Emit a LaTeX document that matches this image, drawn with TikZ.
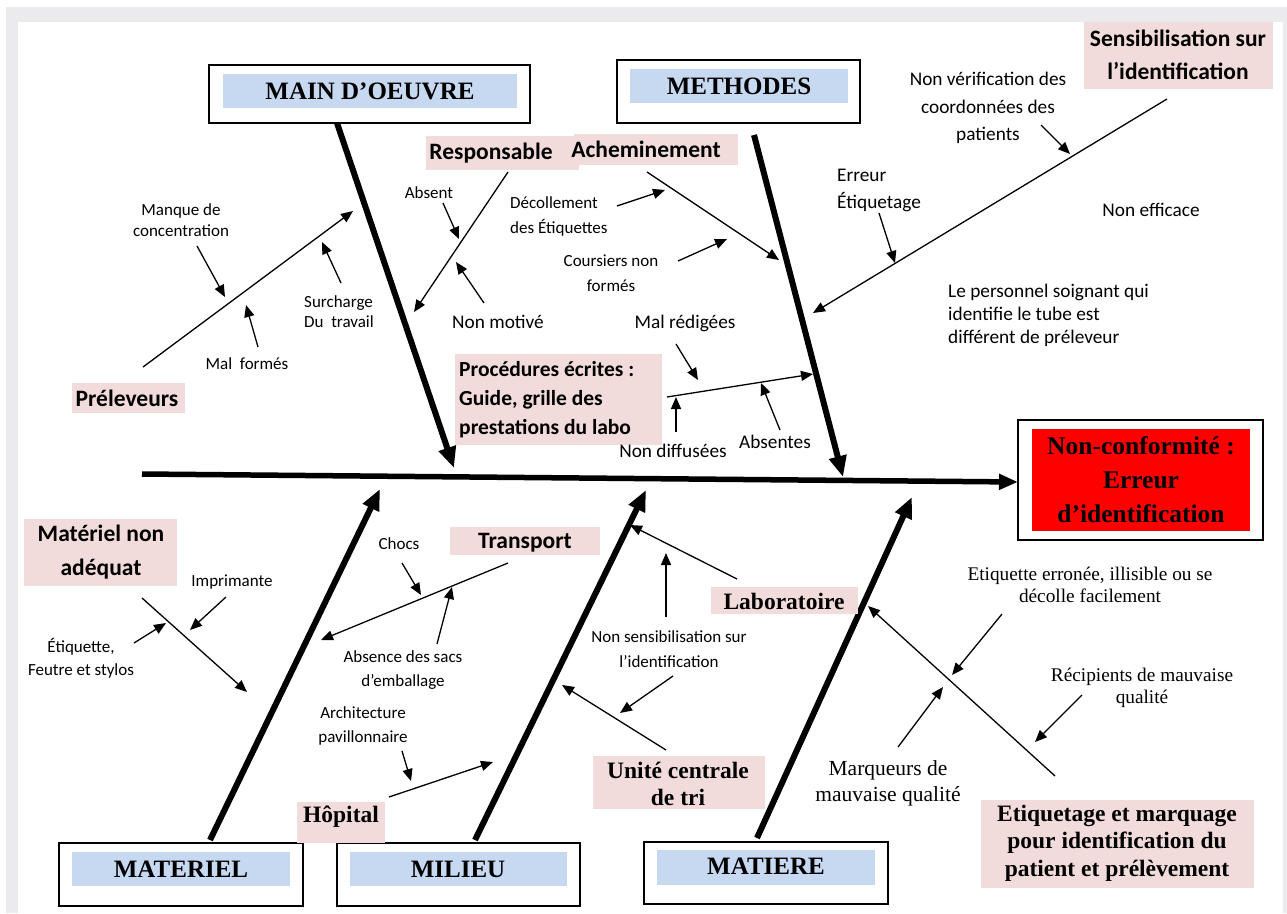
\documentclass[tikz,border=0pt]{standalone}
\usepackage{fontspec}
\setmainfont{Liberation Serif}
\newfontfamily\carl{Carlito}
\usetikzlibrary{arrows.meta}
\definecolor{framegray}{HTML}{EBEBED}
\definecolor{catblue}{HTML}{C6D9F1}
\definecolor{pinkfill}{HTML}{F2DCDB}
\definecolor{effred}{HTML}{FF0000}
\newcommand\cf[2]{\carl\fontsize{#1}{#2}\selectfont}
\newcommand\tf[2]{\fontsize{#1}{#2}\selectfont}
\tikzset{
  txt/.style={inner sep=0pt, align=center, text=black},
  catbox/.style={draw=black, line width=1.2pt, fill=white, inner sep=0pt},
  cattext/.style={inner sep=0pt, font={\bfseries\tf{25}{30}}},
  bone/.style={line width=6pt, -{Triangle[length=21pt,width=17pt]}},
  spine/.style={line width=5.5pt, -{Triangle[length=19pt,width=15pt]}},
  sub/.style={line width=1.3pt, -{Triangle[length=12pt,width=10pt]}},
  subplain/.style={line width=1.3pt},
  small/.style={txt, font={\cf{17}{24}}},
  medium/.style={txt, font={\cf{19.3}{24}}},
  boldlab/.style={txt, font={\carl\bfseries\fontsize{23.5}{33}\selectfont}},
  timeslab/.style={txt, font={\bfseries\tf{23.5}{27.5}}},
  timesreg/.style={txt, font={\tf{19.3}{22}}},
}
\begin{document}
\begin{tikzpicture}[x=1pt,y=-1pt]
\useasboundingbox (0,0) rectangle (1287,913);
% frame
\fill[framegray] (6,7) rectangle (1287,913);
\fill[white] (18,22) rectangle (1283,913);

% ---------- category boxes ----------
\node[catbox, minimum width=321pt, minimum height=58pt] (mainbox) at (369.5,94) {};
\fill[catblue] (223,74) rectangle (517,108);
\node[cattext] (maintxt) at (370,91) {MAIN D’OEUVRE};

\node[catbox, minimum width=243pt, minimum height=63pt] (methbox) at (738.5,91.5) {};
\fill[catblue] (630,69) rectangle (848,103);
\node[cattext] (methtxt) at (739,86) {METHODES};

\node[catbox, minimum width=244pt, minimum height=63pt] (matbox) at (181,874.5) {};
\fill[catblue] (72,852) rectangle (290,886);
\node[cattext] (mattxt) at (181,869) {MATERIEL};

\node[catbox, minimum width=243pt, minimum height=63pt] (milbox) at (458.5,874.5) {};
\fill[catblue] (350,852) rectangle (567,886);
\node[cattext] (miltxt) at (458,869) {MILIEU};

\node[catbox, minimum width=244pt, minimum height=62pt] (matibox) at (766,873) {};
\fill[catblue] (657,850) rectangle (875,885);
\node[cattext] (matitxt) at (766,866) {MATIERE};

% ---------- effect ----------
\node[catbox, minimum width=245pt, minimum height=120pt] (effbox) at (1140.5,480) {};
\fill[effred] (1032,429) rectangle (1250,531);
\node[txt, font={\bfseries\tf{25.5}{34}}] (efftxt) at (1141,480) {Non-conformité :\\Erreur\\d’identification};

% ---------- spine and main bones ----------
\coordinate (spA) at (142,474);
\coordinate (spB) at (1018,482);
\draw[spine] (spA) -- (spB);

\coordinate (mainA) at (337,123);
\coordinate (mainB) at (454,468);
\draw[bone] (mainA) -- (mainB);
\coordinate (methA) at (754,135);
\coordinate (methB) at (843,477);
\draw[bone] (methA) -- (methB);
\coordinate (matA) at (210,840);
\coordinate (matB) at (380,489);
\draw[bone] (matA) -- (matB);
\coordinate (milA) at (475,840);
\coordinate (milB) at (646,490);
\draw[bone] (milA) -- (milB);
\coordinate (matiA) at (757,838);
\coordinate (matiB) at (912,497);
\draw[bone] (matiA) -- (matiB);

% ---------- pink labels ----------
\fill[pinkfill] (1084,22) rectangle (1273,89);
\node[boldlab] (sensi) at (1178,55) {Sensibilisation sur\\l’identification};
\fill[pinkfill] (426,136) rectangle (579,170);
\node[boldlab] (resp) at (491,153) {Responsable};
\fill[pinkfill] (574,134) rectangle (738,165);
\node[boldlab] (achem) at (646,149) {Acheminement};
\fill[pinkfill] (72,383) rectangle (185,413);
\node[boldlab] (prel) at (127,398) {Préleveurs};
\fill[pinkfill] (455,354) rectangle (662,445);
\node[txt, align=left, anchor=west, font={\carl\bfseries\fontsize{21.5}{29}\selectfont}] (proc) at (459,400) {Procédures écrites :\\Guide, grille des\\prestations du labo};
\fill[pinkfill] (24,519) rectangle (177,586);
\node[boldlab, font={\carl\bfseries\fontsize{23.5}{34}\selectfont}] (matna) at (101,552) {Matériel non\\adéquat};
\fill[pinkfill] (450,527) rectangle (600,555);
\node[boldlab] (transp) at (525,543) {Transport};
\fill[pinkfill] (297,802) rectangle (385,843);
\node[timeslab] (hop) at (341,817) {Hôpital};
\fill[pinkfill] (711,587) rectangle (858,614);
\node[timeslab] (labo) at (784,601) {Laboratoire};
\fill[pinkfill] (593,756) rectangle (765,809);
\node[timeslab] (unite) at (678,784) {Unité centrale\\de tri};
\fill[pinkfill] (981,800) rectangle (1254,888);
\node[timeslab] (etiq) at (1117,843) {Etiquetage et marquage\\pour identification du\\patient et prélèvement};

% ---------- small texts (top) ----------
\node[small, font={\cf{17}{21}}] (manque) at (181,220) {Manque de\\concentration};
\node[small] (malf) at (247,364) {Mal\ \ formés};
\node[small, align=left, anchor=west, font={\cf{17}{20}}] (surch) at (304,312) {Surcharge\\Du\ \ travail};
\node[small] (absent) at (429,193) {Absent};
\node[medium] (nonmot) at (498,322) {Non motivé};
\node[small, align=left, anchor=west, font={\cf{17}{25}}] (decol) at (510,216) {Décollement\\des Étiquettes};
\node[small, font={\cf{17}{25}}] (cours) at (611,273) {Coursiers non\\formés};
\node[medium, align=left, anchor=west, font={\cf{19.3}{27}}] (erreur) at (837,190) {Erreur\\Étiquetage};
\node[medium, font={\cf{19.3}{27.5}}] (nonverif) at (988,108) {Non vérification des\\coordonnées des\\patients};
\node[medium] (noneff) at (1151,210) {Non efficace};
\node[medium, align=left, anchor=west, font={\cf{19.3}{23}}] (perso) at (948,315) {Le personnel soignant qui\\identifie le tube est\\différent de préleveur};
\node[medium] (malred) at (685,323) {Mal rédigées};
\node[medium] (nondif) at (673,451) {Non diffusées};
\node[medium] (absentes) at (775,442) {Absentes};

% ---------- small texts (bottom) ----------
\node[small] (impr) at (232,582) {Imprimante};
\node[small, font={\cf{17}{23}}] (etiqf) at (81,658) {Étiquette,\\Feutre et stylos};
\node[small] (chocs) at (399,544) {Chocs};
\node[small, font={\cf{17}{24}}] (absence) at (403,670) {Absence des sacs\\d’emballage};
\node[small, font={\cf{17}{24}}] (archi) at (363,726) {Architecture\\pavillonnaire};
\node[small, font={\cf{17}{25}}] (nonsens) at (669,649) {Non sensibilisation sur\\l’identification};
\node[timesreg] (erronee) at (1090,585) {Etiquette erronée, illisible ou se\\décolle facilement};
\node[timesreg] (recip) at (1142,688) {Récipients de mauvaise\\qualité};
\node[timesreg, font={\tf{21.5}{26}}] (marq) at (888,783) {Marqueurs de\\mauvaise qualité};

% ---------- sub bones and arrows (top) ----------
\coordinate (prA) at (143,367); \coordinate (prB) at (353,211);
\draw[sub] (prA) -- (prB);
\coordinate (mqA) at (197,246); \coordinate (mqB) at (225,297);
\draw[sub] (mqA) -- (mqB);
\coordinate (mfA) at (258,347); \coordinate (mfB) at (246,305);
\draw[sub] (mfA) -- (mfB);
\coordinate (scA) at (341,283); \coordinate (scB) at (322,242);
\draw[sub] (scA) -- (scB);
\coordinate (reA) at (508,172); \coordinate (reB) at (414,312);
\draw[sub] (reA) -- (reB);
\coordinate (abA) at (443,203); \coordinate (abB) at (459,239);
\draw[sub] (abA) -- (abB);
\coordinate (nmA) at (484,303); \coordinate (nmB) at (456,262);
\draw[sub] (nmA) -- (nmB);
\coordinate (acA) at (647,172); \coordinate (acB) at (779,260);
\draw[sub] (acA) -- (acB);
\coordinate (dcA) at (617,206); \coordinate (dcB) at (665,190);
\draw[sub] (dcA) -- (dcB);
\coordinate (coA) at (678,261); \coordinate (coB) at (727,239);
\draw[sub] (coA) -- (coB);
\coordinate (seA) at (1167,99); \coordinate (seB) at (813,313);
\draw[sub] (seA) -- (seB);
\coordinate (nvA) at (1041,125); \coordinate (nvB) at (1070,154);
\draw[sub] (nvA) -- (nvB);
\coordinate (erA) at (879,213); \coordinate (erB) at (895,263);
\draw[sub] (erA) -- (erB);
\coordinate (poA) at (667,397); \coordinate (poB) at (813,374);
\draw[sub] (poA) -- (poB);
\coordinate (mrA) at (676,344); \coordinate (mrB) at (698,380);
\draw[sub] (mrA) -- (mrB);
\coordinate (ndA) at (676,432); \coordinate (ndB) at (676,397);
\draw[sub] (ndA) -- (ndB);
\coordinate (asA) at (780,430); \coordinate (asB) at (761,383);
\draw[sub] (asA) -- (asB);

% ---------- sub bones and arrows (bottom) ----------
\coordinate (mnA) at (142,598); \coordinate (mnB) at (247,692);
\draw[sub] (mnA) -- (mnB);
\coordinate (imA) at (226,597); \coordinate (imB) at (190,630);
\draw[sub] (imA) -- (imB);
\coordinate (efA) at (134,643); \coordinate (efB) at (166,623);
\draw[sub] (efA) -- (efB);
\coordinate (trA) at (508,563); \coordinate (trB) at (321,640);
\draw[sub] (trA) -- (trB);
\coordinate (chA) at (402,563); \coordinate (chB) at (421,595);
\draw[sub] (chA) -- (chB);
\coordinate (aeA) at (437,644); \coordinate (aeB) at (452,587);
\draw[sub] (aeA) -- (aeB);
\coordinate (hoA) at (389,797); \coordinate (hoB) at (493,762);
\draw[sub] (hoA) -- (hoB);
\coordinate (arA) at (402,751); \coordinate (arB) at (411,781);
\draw[sub] (arA) -- (arB);
\coordinate (laA) at (737,579); \coordinate (laB) at (630,525);
\draw[sub] (laA) -- (laB);
\coordinate (nuA) at (666,617); \coordinate (nuB) at (666,553);
\draw[sub] (nuA) -- (nuB);
\coordinate (ndnA) at (673,676); \coordinate (ndnB) at (620,713);
\draw[sub] (ndnA) -- (ndnB);
\coordinate (unA) at (666,750); \coordinate (unB) at (562,685);
\draw[sub] (unA) -- (unB);
\coordinate (etA) at (1055,776); \coordinate (etB) at (868,606);
\draw[sub] (etA) -- (etB);
\coordinate (eeA) at (1002,614); \coordinate (eeB) at (952,675);
\draw[sub] (eeA) -- (eeB);
\coordinate (rcA) at (1082,695); \coordinate (rcB) at (1035,742);
\draw[sub] (rcA) -- (rcB);
\coordinate (mkA) at (898,747); \coordinate (mkB) at (943,687);
\draw[sub] (mkA) -- (mkB);
\end{tikzpicture}
\end{document}
